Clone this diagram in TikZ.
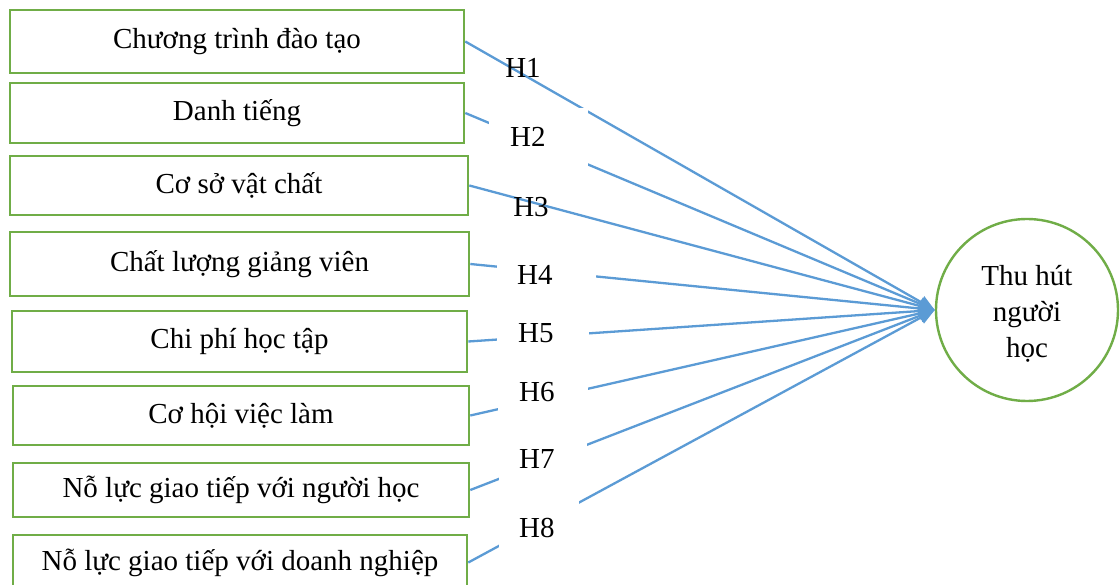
\documentclass[tikz,border=0pt]{standalone}
\usepackage{fontspec}
\setmainfont{Liberation Serif}
\usetikzlibrary{arrows.meta}
\definecolor{boxgreen}{HTML}{70AD47}
\definecolor{lineblue}{HTML}{5B9BD5}
\begin{document}
\begin{tikzpicture}[x=1pt,y=-1pt,
  every node/.style={font=\fontsize{29}{36}\selectfont},
  factor/.style={draw=boxgreen, line width=2.6pt, fill=white, rectangle, inner sep=0pt},
  target/.style={draw=boxgreen, line width=2.4pt, circle, minimum size=182pt, inner sep=0pt, align=center},
  link/.style={draw=lineblue, line width=2.3pt, -{Triangle[length=16pt,width=13pt]}},
  hyp/.style={inner sep=0pt},
  hypmask/.style={fill=white, anchor=west, align=left, inner ysep=0pt},
]
\useasboundingbox (0,0) rectangle (1120,585);
\fill[white] (0,0) rectangle (1120,585);

\node[factor, minimum width=454pt, minimum height=63pt] (b1) at (237,41.5) {Chương trình đào tạo};
\node[factor, minimum width=454pt, minimum height=60pt] (b2) at (237,113) {Danh tiếng};
\node[factor, minimum width=458pt, minimum height=59pt] (b3) at (239,185.5) {Cơ sở vật chất};
\node[factor, minimum width=459pt, minimum height=64pt] (b4) at (239.5,264) {Chất lượng giảng viên};
\node[factor, minimum width=455pt, minimum height=61pt] (b5) at (239.5,341.5) {Chi phí học tập};
\node[factor, minimum width=456pt, minimum height=59pt] (b6) at (241,415.5) {Cơ hội việc làm};
\node[factor, minimum width=456pt, minimum height=54pt] (b7) at (241,490) {Nỗ lực giao tiếp với người học};
\node[factor, minimum width=454pt, minimum height=55pt] (b8) at (240,562.5) {Nỗ lực giao tiếp với doanh nghiệp};

\node[target] (c) at (1027,310) {\rule{0pt}{28pt}Thu hút\\người\\học};

\foreach \i in {1,...,8} {
  \draw[link] (b\i.east) -- (c.west);
}

\node[hyp] (h1) at (523,68) {H1};
\node[hypmask, text width=57pt, inner xsep=21pt, minimum height=58pt] (h2) at (489,137) {H2};
\node[hyp] (h3) at (531,207) {H3};
\node[hypmask, text width=59pt, inner xsep=20pt, minimum height=50pt] (h4) at (497,275) {H4};
\node[hypmask, text width=50pt, inner xsep=21pt, minimum height=44pt] (h5) at (497,333) {H5};
\node[hypmask, text width=48pt, inner xsep=21pt, minimum height=50pt] (h6) at (498,392) {H6};
\node[hypmask, text width=48pt, inner xsep=20pt, minimum height=50pt] (h7) at (499,459) {H7};
\node[hypmask, text width=40pt, inner xsep=20pt, minimum height=70pt] (h8) at (499,528) {H8};
\end{tikzpicture}
\end{document}
